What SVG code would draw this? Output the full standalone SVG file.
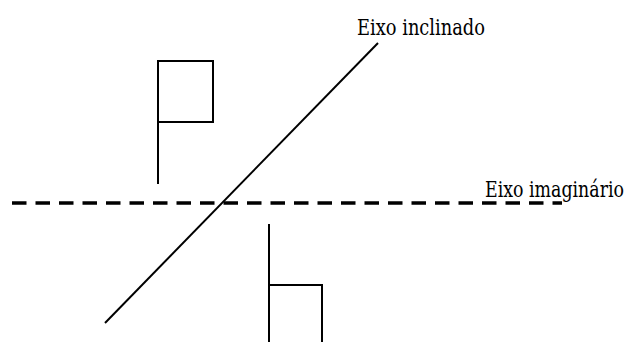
<svg xmlns="http://www.w3.org/2000/svg" width="630" height="342" viewBox="0 0 630 342">
<style>
.ln{stroke:#000;stroke-width:2;fill:none}
.lbl{font-family:"DejaVu Serif","Liberation Serif",serif;font-size:23px;fill:#000}
</style>
<rect width="630" height="342" fill="#fff"/>
<g id="connectors">
<line class="ln" x1="12" y1="203" x2="562" y2="203" style="stroke-width:3.5" stroke-dasharray="14.5 9"/>
<line class="ln" x1="105" y1="323" x2="378" y2="43"/>
</g>
<g id="flag-top">
<rect class="ln" x="158" y="61" width="55" height="61"/>
<line class="ln" x1="158" y1="122" x2="158" y2="184"/>
</g>
<g id="flag-bottom">
<line class="ln" x1="269" y1="224" x2="269" y2="342"/>
<polyline class="ln" points="269,285 322,285 322,342"/>
</g>
<g id="label-inclinado">
<text class="lbl" transform="translate(357,35) scale(0.75,1)" x="0" y="0" textLength="170.7" lengthAdjust="spacingAndGlyphs">Eixo inclinado</text>
</g>
<g id="label-imaginario">
<text class="lbl" transform="translate(485,197) scale(0.75,1)" x="0" y="0" textLength="185.3" lengthAdjust="spacingAndGlyphs">Eixo imaginário</text>
</g>
</svg>
